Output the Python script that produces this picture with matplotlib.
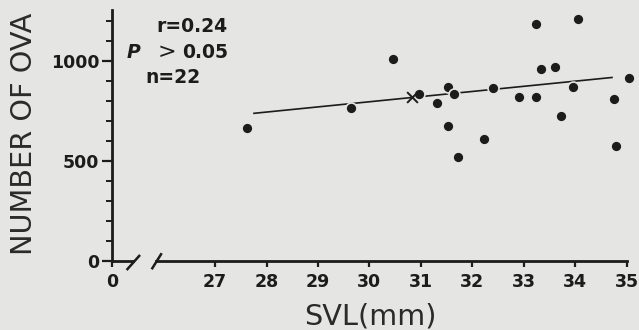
import matplotlib
matplotlib.use("Agg")
import matplotlib.pyplot as plt
from matplotlib.ticker import MultipleLocator, FixedLocator

# Snout-vent length (mm) and clutch size for each female
svl = [27.62, 29.64, 30.45, 30.97, 31.32, 31.53, 31.64, 31.53, 31.73, 32.22,
       32.41, 32.91, 33.24, 33.24, 33.33, 33.61, 33.73, 33.96, 34.05, 34.75,
       34.79, 35.05]
ova = [666, 763, 1011, 833, 788, 868, 833, 675, 521, 611,
       863, 818, 818, 1183, 958, 971, 725, 871, 1208, 810,
       576, 916]
# Sample mean
mean_svl = [30.82]
mean_ova = [821]
# Fitted regression line end points
fit_x = [27.74, 34.73]
fit_y = [738, 918]

x_ticks = [27, 28, 29, 30, 31, 32, 33, 34, 35]
y_major = [0, 500, 1000]

bg = "#e5e5e3"
ink = "#1c1c1c"
W, H = 639, 330

plt.rcParams["font.family"] = ["DejaVu Sans"]
fig = plt.figure(figsize=(W / 100, H / 100), dpi=100, facecolor=bg)

def px_rect(x0, x1, y0, y1):
    # y0 bottom, y1 top in image pixel rows
    return [x0 / W, 1 - y0 / H, (x1 - x0) / W, (y0 - y1) / H]

y_top = 1255
ax0 = fig.add_axes(px_rect(111.7, 133.0, 261, 261 - y_top * 0.2))
ax = fig.add_axes(px_rect(155.9, 626.7, 261, 261 - y_top * 0.2))

tick_fs = 12.5
for a in (ax0, ax):
    a.set_facecolor("none")
    a.set_ylim(0, y_top)
    for s in ("top", "right"):
        a.spines[s].set_visible(False)
    a.spines["bottom"].set_linewidth(2.0)
    a.spines["bottom"].set_color(ink)
    a.tick_params(axis="x", direction="out", length=4.5, width=1.6,
                  colors=ink, labelsize=tick_fs, pad=4.0)

# Left stub: y axis and the zero of x
ax0.set_xlim(0, 1)
ax0.xaxis.set_major_locator(FixedLocator([0]))
ax0.set_xticklabels(["0"], fontweight="bold")
ax0.spines["left"].set_linewidth(2.0)
ax0.spines["left"].set_color(ink)
ax0.yaxis.set_major_locator(FixedLocator(y_major))
ax0.yaxis.set_minor_locator(MultipleLocator(100))
ax0.tick_params(axis="y", which="major", direction="out", length=7, width=1.6,
                colors=ink, labelsize=tick_fs, pad=2)
ax0.tick_params(axis="y", which="minor", direction="out", length=4, width=1.4,
                colors=ink)
ax0.set_yticklabels([str(v) for v in y_major], fontweight="bold")

# Main panel
ax.set_xlim(25.85, 35.0)
ax.spines["left"].set_visible(False)
ax.set_yticks([])
ax.set_xticks(x_ticks)
ax.set_xticklabels([str(v) for v in x_ticks], fontweight="bold")

ax.plot(fit_x, fit_y, color=ink, lw=1.2, solid_capstyle="butt", zorder=2)
ax.scatter(svl, ova, s=62, color=ink, edgecolors=bg, linewidths=1.2,
           zorder=3, clip_on=False)
ax.scatter(mean_svl, mean_ova, s=60, marker="x", color=ink, linewidths=1.4,
           zorder=4)

# Axis break marks
brk = dict(color=ink, lw=1.8, clip_on=False, solid_capstyle="butt")
ax0.plot([0.70, 1.33], [-0.036, 0.024], transform=ax0.transAxes, **brk)
ax.plot([-0.009, 0.0123], [-0.033, 0.031], transform=ax.transAxes, **brk)

# Statistics
txt = dict(color=ink, fontsize=13.5, fontweight="bold", va="baseline")
fig.text(228 / W, 1 - 32 / H, "r=0.24", ha="right", **txt)
fig.text(126.7 / W, 1 - 58 / H, "P", ha="left", style="italic", **txt)
fig.text(166.5 / W, 1 - 58 / H, ">", ha="center", color=ink, fontsize=16,
         va="baseline")
fig.text(228 / W, 1 - 58 / H, "0.05", ha="right", **txt)
fig.text(172.5 / W, 1 - 83 / H, "n=22", ha="center", **txt)

# Axis titles
fig.text(24 / W, 1 - 134 / H, "NUMBER OF OVA", rotation=90, ha="center",
         va="center", fontsize=20.7, color="#2a2a2a")
fig.text(370 / W, 1 - 324 / H, "SVL(mm)", ha="center", va="baseline",
         fontsize=20.7, color="#2a2a2a")

fig.savefig("out.png", dpi=100, facecolor=bg)
